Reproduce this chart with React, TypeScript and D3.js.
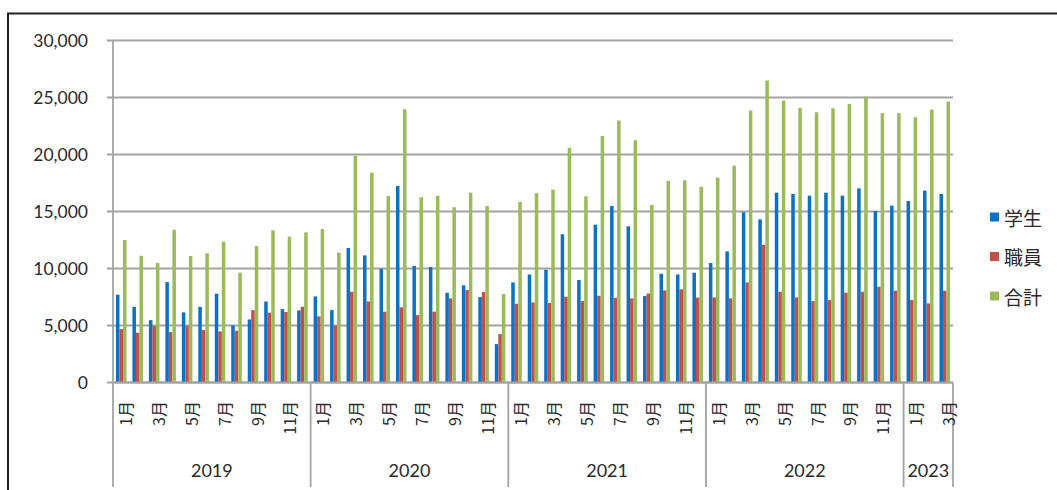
import React from "react";
import * as d3 from "d3";

const years = ["2019", "2020", "2021", "2022", "2023"];
const monthsPerYear = [12, 12, 12, 12, 3];
const seriesNames = ["学生", "職員", "合計"];
const seriesColors = ["#0B72C6", "#C0504D", "#9BBB59"];
const yTicks = [0, 5000, 10000, 15000, 20000, 25000, 30000];

const students = [
  7700, 6640, 5470, 8810, 6150, 6640, 7790, 5000, 5530, 7110, 6440, 6320,
  7550, 6350, 11800, 11150, 9980, 17240, 10220, 10130, 7870, 8520, 7490, 3370,
  8780, 9480, 9890, 13000, 8990, 13840, 15480, 13700, 7580, 9540, 9480, 9630,
  10480, 11500, 14930, 14310, 16650, 16540, 16390, 16650, 16390, 17030, 15040, 15510,
  15920, 16830, 16540,
];
const staff = [
  4680, 4360, 4950, 4420, 4950, 4600, 4480, 4540, 6350, 6120, 6180, 6640,
  5800, 4980, 7960, 7110, 6210, 6590, 5910, 6210, 7380, 8110, 7930, 4240,
  6910, 7020, 6970, 7520, 7140, 7610, 7430, 7380, 7810, 8080, 8170, 7450,
  7460, 7380, 8780, 12060, 7960, 7460, 7140, 7230, 7870, 7960, 8400, 8050,
  7230, 6940, 8050,
];
const total = [
  12500, 11120, 10480, 13400, 11090, 11330, 12350, 9630, 11970, 13350, 12790, 13170,
  13460, 11390, 19900, 18410, 16360, 23970, 16250, 16390, 15370, 16650, 15480, 7760,
  15840, 16600, 16920, 20580, 16330, 21630, 22980, 21250, 15570, 17680, 17740, 17180,
  17970, 19020, 23850, 26490, 24730, 24090, 23710, 24060, 24440, 25080, 23620, 23620,
  23270, 23940, 24640,
];

const seriesValues = [students, staff, total];

type Cat = { year: string; month: number; idx: number };
const categories: Cat[] = [];
years.forEach((y, yi) => {
  for (let m = 1; m <= monthsPerYear[yi]; m++) {
    categories.push({ year: y, month: m, idx: categories.length });
  }
});

const W = 1057;
const H = 490;
const plotLeft = 113;
const plotRight = 953;
const plotTop = 40.5;
const plotBottom = 382.5;

const numFont = "Lato, 'Noto Sans CJK JP', sans-serif";
const jpFont = "'Noto Sans CJK JP', sans-serif";
const gridColor = "#a3a3a3";
const textColor = "#2a2a2a";

export default function App() {
  const xCat = d3
    .scaleBand<number>()
    .domain(categories.map((c) => c.idx))
    .range([plotLeft, plotRight])
    .padding(0);
  const step = xCat.step();
  const groupPad = step * 0.18;
  const xSub = d3
    .scaleBand<number>()
    .domain([0, 1, 2])
    .range([0, step - 2 * groupPad])
    .padding(0);
  const y = d3.scaleLinear().domain([0, 30000]).range([plotBottom, plotTop]);
  const fmt = d3.format(",");

  const boundaries: number[] = [];
  let acc = 0;
  monthsPerYear.forEach((n) => {
    boundaries.push(acc);
    acc += n;
  });
  boundaries.push(acc);
  const xAt = (i: number) => (i >= categories.length ? plotRight : (xCat(i) as number));

  return (
    <svg
      width={W}
      height={H}
      style={{ position: "absolute", left: 0, top: 0, background: "#fff" }}
    >
      <rect x={0} y={0} width={W} height={H} fill="#fff" />
      <path d={`M8,${H + 5} L8,13.5 L${W + 5},13.5`} fill="none" stroke="#222" strokeWidth={2} />

      {yTicks.map((t) => (
        <g key={t}>
          <line
            x1={plotLeft - 6}
            x2={plotRight}
            y1={y(t)}
            y2={y(t)}
            stroke={gridColor}
            strokeWidth={1.8}
          />
          <text
            x={88}
            y={y(t)}
            textAnchor="end"
            dominantBaseline="central"
            fontFamily={numFont}
            fontSize={17.5}
            fill={textColor}
          >
            {fmt(t)}
          </text>
        </g>
      ))}
      <line x1={plotLeft} x2={plotLeft} y1={plotTop} y2={plotBottom} stroke={gridColor} strokeWidth={1.8} />

      {categories.map((c) => (
        <g key={c.idx} transform={`translate(${(xCat(c.idx) as number) + groupPad},0)`}>
          {seriesValues.map((vals, si) => (
            <rect
              key={si}
              x={xSub(si) as number}
              width={xSub.bandwidth()}
              y={y(vals[c.idx])}
              height={y(0) - y(vals[c.idx])}
              fill={seriesColors[si]}
            />
          ))}
        </g>
      ))}

      <line x1={plotLeft} x2={plotRight} y1={plotBottom} y2={plotBottom} stroke={gridColor} strokeWidth={1.8} />

      {boundaries.map((b, i) => (
        <line
          key={i}
          x1={xAt(b)}
          x2={xAt(b)}
          y1={plotBottom}
          y2={487}
          stroke={gridColor}
          strokeWidth={1.8}
        />
      ))}

      {categories
        .filter((c) => c.month % 2 === 1)
        .map((c) => {
          const cx = (xCat(c.idx) as number) + step / 2 + 3.5;
          return (
            <text
              key={c.idx}
              transform={`translate(${cx},401) rotate(-90)`}
              textAnchor="end"
              dominantBaseline="central"
              fontFamily={jpFont}
              fontSize={16}
              fill={textColor}
            >
              {`${c.month}月`}
            </text>
          );
        })}

      {years.map((yr, i) => {
        const cx = (xAt(boundaries[i]) + xAt(boundaries[i + 1])) / 2;
        return (
          <text
            key={yr}
            x={cx}
            y={477}
            textAnchor="middle"
            fontFamily={numFont}
            fontSize={18}
            fill={textColor}
          >
            {yr}
          </text>
        );
      })}

      {seriesNames.map((n, i) => (
        <g key={n} transform={`translate(990,${217 + i * 39.5})`}>
          <rect x={0} y={-4.5} width={9} height={9} fill={seriesColors[i]} />
          <text
            x={14}
            y={0}
            dominantBaseline="central"
            fontFamily={jpFont}
            fontSize={19}
            fill={textColor}
          >
            {n}
          </text>
        </g>
      ))}
    </svg>
  );
}
